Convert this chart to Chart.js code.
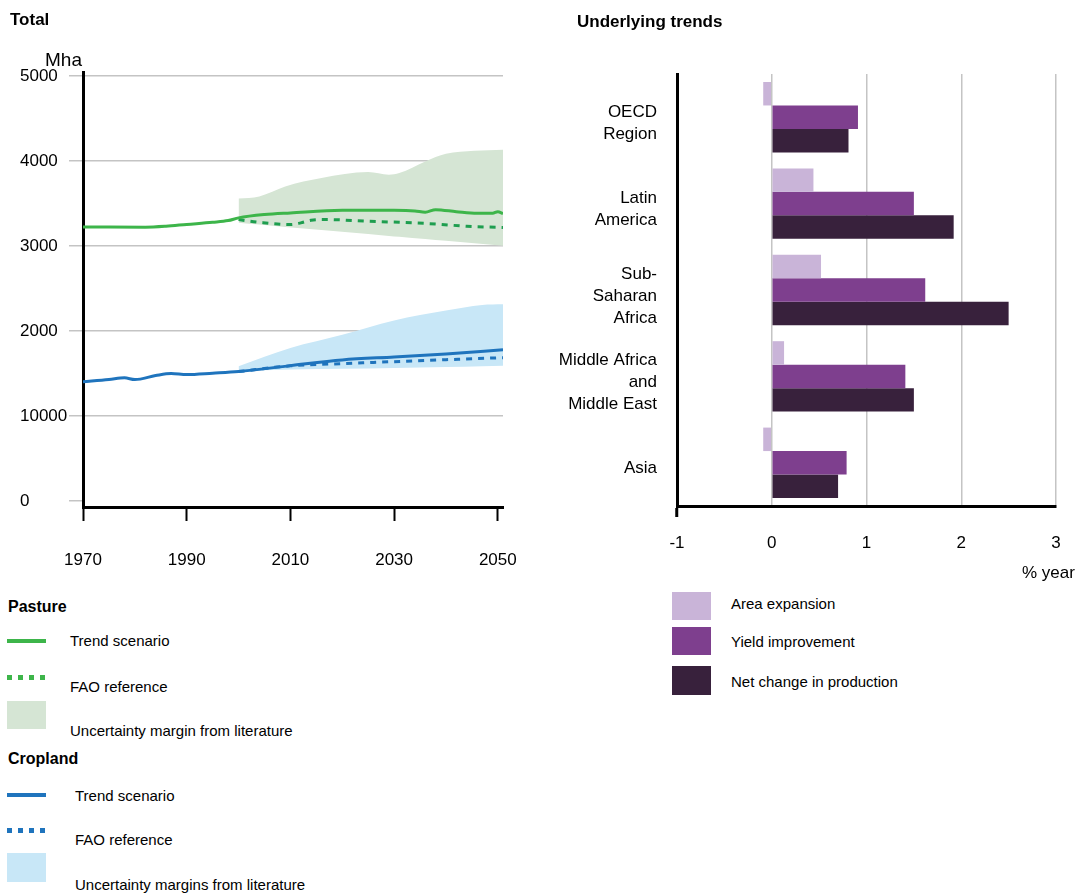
<!DOCTYPE html>
<html>
<head>
<meta charset="utf-8">
<script src="https://cdn.jsdelivr.net/npm/chart.js@4.4.1/dist/chart.umd.min.js"></script>
<style>
  body { margin: 0; background: #fff; }
  #page {
    position: relative; width: 1078px; height: 895px; overflow: hidden;
    font-family: "Liberation Sans", Arial, sans-serif; color: #000;
  }
  .t { position: absolute; white-space: nowrap; line-height: 1; z-index: 2; }
  .title { font-weight: bold; font-size: 17px; }
  .grp { font-weight: bold; font-size: 16px; }
  .lg { font-size: 15px; }
  .sw { position: absolute; z-index: 2; }
  #totalBox { position: absolute; left: 0; top: 0; width: 530px; height: 590px; }
  #trendsBox { position: absolute; left: 540px; top: 0; width: 538px; height: 590px; }
</style>
</head>
<body>
<div id="page">
  <div id="totalBox"><canvas id="totalChart"></canvas></div>
  <div id="trendsBox"><canvas id="trendsChart"></canvas></div>

  <div class="t title" style="left:10px; top:11px;">Total</div>
  <div class="t title" style="left:577px; top:13px;">Underlying trends</div>
  <div class="t" style="left:45px; top:50px; font-size:19px;">Mha</div>
  <div class="t" style="left:1022px; top:564px; font-size:17px;">% year</div>

  <!-- left legend -->
  <div class="t grp" style="left:8px; top:599px;">Pasture</div>
  <div class="sw" style="left:7px; top:639px; width:39px; height:4px; background:#3db54a;"></div>
  <div class="t lg" style="left:70px; top:633px;">Trend scenario</div>
  <div class="sw" style="left:7px; top:675px; width:39px; height:5px; background:repeating-linear-gradient(to right,#3db54a 0 5px,transparent 5px 11px);"></div>
  <div class="t lg" style="left:70px; top:679px;">FAO reference</div>
  <div class="sw" style="left:7px; top:701px; width:39px; height:28px; background:#d5e5d4;"></div>
  <div class="t lg" style="left:70px; top:723px;">Uncertainty margin from literature</div>
  <div class="t grp" style="left:8px; top:751px;">Cropland</div>
  <div class="sw" style="left:7px; top:793px; width:39px; height:4px; background:#1f74bd;"></div>
  <div class="t lg" style="left:75px; top:788px;">Trend scenario</div>
  <div class="sw" style="left:7px; top:828px; width:39px; height:5px; background:repeating-linear-gradient(to right,#1f74bd 0 5px,transparent 5px 11px);"></div>
  <div class="t lg" style="left:75px; top:832px;">FAO reference</div>
  <div class="sw" style="left:7px; top:853px; width:39px; height:29px; background:#c8e7f7;"></div>
  <div class="t lg" style="left:75px; top:877px;">Uncertainty margins from literature</div>

  <!-- right legend -->
  <div class="sw" style="left:672px; top:592px; width:39px; height:28px; background:#c9b4d8;"></div>
  <div class="t lg" style="left:731px; top:596px;">Area expansion</div>
  <div class="sw" style="left:672px; top:627px; width:39px; height:28px; background:#7e3f8e;"></div>
  <div class="t lg" style="left:731px; top:634px;">Yield improvement</div>
  <div class="sw" style="left:672px; top:666px; width:39px; height:29px; background:#38213c;"></div>
  <div class="t lg" style="left:731px; top:674px;">Net change in production</div>
</div>

<script>
// ---- left panel: total area (Mha) ----
const pastureYears = [1970, 1975, 1982, 1986, 1990, 1995, 1998, 2000, 2005, 2010, 2020, 2030, 2034, 2036, 2038, 2042, 2046, 2049, 2050, 2051];
const pastureTrend = [3227, 3225, 3224, 3235, 3256, 3281, 3301, 3333, 3372, 3391, 3422, 3422, 3415, 3399, 3430, 3406, 3387, 3387, 3406, 3384];

const pastureFaoYears = [2000, 2004, 2010, 2012, 2014, 2017, 2025, 2031, 2038, 2044, 2051];
const pastureFao = [3313, 3281, 3254, 3274, 3305, 3313, 3293, 3281, 3261, 3234, 3220];

const pastureBandYears = [2000, 2004, 2009, 2016, 2025, 2029, 2031, 2036, 2040, 2051];
const pastureUpper = [3560, 3586, 3703, 3802, 3872, 3840, 3860, 3997, 4087, 4134];
const pastureLower = [3275, 3254, 3227, 3190, 3143, 3121, 3111, 3084, 3063, 3005];

const cropYears = [1970, 1975, 1978, 1980, 1984, 1987, 1990, 1995, 2000, 2010, 2020, 2030, 2040, 2051];
const cropTrend = [1404, 1430, 1450, 1430, 1477, 1501, 1489, 1505, 1524, 1594, 1661, 1696, 1731, 1781];

const cropFaoYears = [2000, 2010, 2020, 2030, 2040, 2051];
const cropFao = [1524, 1592, 1618, 1641, 1664, 1688];

const cropBandYears = [2000, 2010, 2020, 2030, 2040, 2047, 2051];
const cropUpper = [1587, 1801, 1957, 2125, 2242, 2308, 2316];
const cropLower = [1529, 1548, 1558, 1567, 1578, 1588, 1594];

const yearTicks = [1970, 1990, 2010, 2030, 2050];
const mhaTicks = [0, 1000, 2000, 3000, 4000, 5000];
const mhaTickLabels = ["0", "10000", "2000", "3000", "4000", "5000"];

// ---- right panel: underlying trends (% / year) ----
const regions = [["OECD", "Region"], ["Latin", "America"], ["Sub-", "Saharan", "Africa"], ["Middle Africa", "and", "Middle East"], ["Asia"]];
const areaExpansion = [-0.09, 0.44, 0.52, 0.13, -0.09];
const yieldImprovement = [0.91, 1.50, 1.62, 1.41, 0.79];
const netChange = [0.81, 1.92, 2.50, 1.50, 0.70];

const FONT = "'Liberation Sans', Arial, sans-serif";
const CLEAR = "rgba(0,0,0,0)";

function pairs(xs, ys) {
  return xs.map((x, i) => ({ x: x, y: ys[i] }));
}

function lineSet(label, xs, ys, color, dash) {
  return {
    label: label,
    data: pairs(xs, ys),
    borderColor: color,
    borderWidth: 3,
    borderDash: dash || [],
    fill: false,
    pointRadius: 0,
    cubicInterpolationMode: "monotone",
  };
}

function bandSet(label, xs, ys, color, fillTo) {
  return {
    label: label,
    data: pairs(xs, ys),
    borderWidth: 0,
    borderColor: CLEAR,
    backgroundColor: color,
    fill: fillTo,
    pointRadius: 0,
    cubicInterpolationMode: "monotone",
  };
}

new Chart(document.getElementById("totalChart"), {
  type: "line",
  data: {
    datasets: [
      lineSet("Pasture trend scenario", pastureYears, pastureTrend, "#3db54a"),
      lineSet("Pasture FAO reference", pastureFaoYears, pastureFao, "#1e9e4f", [6, 6]),
      lineSet("Cropland trend scenario", cropYears, cropTrend, "#1f74bd"),
      lineSet("Cropland FAO reference", cropFaoYears, cropFao, "#1f74bd", [6, 6]),
      bandSet("Pasture lower", pastureBandYears, pastureLower, "#d5e5d4", false),
      bandSet("Pasture uncertainty", pastureBandYears, pastureUpper, "#d5e5d4", "-1"),
      bandSet("Cropland lower", cropBandYears, cropLower, "#c8e7f7", false),
      bandSet("Cropland uncertainty", cropBandYears, cropUpper, "#c8e7f7", "-1"),
    ],
  },
  options: {
    responsive: true,
    maintainAspectRatio: false,
    animation: false,
    layout: { padding: { top: 72, right: 27, left: 20, bottom: 0 } },
    plugins: { legend: { display: false }, tooltip: { enabled: false } },
    scales: {
      x: {
        type: "linear",
        min: 1970,
        max: 2051,
        afterBuildTicks: (scale) => {
          scale.ticks = yearTicks.map((v) => ({ value: v }));
        },
        afterFit: (scale) => {
          scale.height = 83;
          scale.paddingLeft = 0;
          scale.paddingRight = 0;
        },
        ticks: {
          color: "#000",
          padding: 29,
          font: { family: FONT, size: 17 },
          callback: (v) => String(v),
        },
        grid: { drawOnChartArea: false, tickLength: 14, tickColor: "#000", tickWidth: 2 },
        border: { color: "#000", width: 3 },
      },
      y: {
        min: -70,
        max: 5050,
        afterBuildTicks: (scale) => {
          scale.ticks = mhaTicks.map((v) => ({ value: v }));
        },
        afterFit: (scale) => {
          scale.width = 63;
        },
        ticks: {
          color: "#000",
          crossAlign: "far",
          font: { family: FONT, size: 17 },
          callback: (v) => mhaTickLabels[mhaTicks.indexOf(v)],
        },
        grid: {
          color: (ctx) => (ctx.tick && ctx.tick.value === 0 ? CLEAR : "#c4c4c4"),
          tickColor: "#c4c4c4",
          lineWidth: 1.5,
          tickLength: 14,
        },
        border: { color: "#000", width: 3 },
      },
    },
  },
});

new Chart(document.getElementById("trendsChart"), {
  type: "bar",
  data: {
    labels: regions,
    datasets: [
      { label: "Area expansion", data: areaExpansion, backgroundColor: "#c9b4d8" },
      { label: "Yield improvement", data: yieldImprovement, backgroundColor: "#7e3f8e" },
      { label: "Net change in production", data: netChange, backgroundColor: "#38213c" },
    ],
  },
  options: {
    indexAxis: "y",
    responsive: true,
    maintainAspectRatio: false,
    animation: false,
    datasets: { bar: { categoryPercentage: 0.815, barPercentage: 1.0 } },
    layout: { padding: { top: 74, right: 22, left: 0, bottom: 0 } },
    plugins: { legend: { display: false }, tooltip: { enabled: false } },
    scales: {
      x: {
        min: -1,
        max: 3,
        afterFit: (scale) => {
          scale.height = 84;
          scale.paddingLeft = 0;
          scale.paddingRight = 0;
        },
        ticks: {
          stepSize: 1,
          color: "#000",
          padding: 16,
          font: { family: FONT, size: 17 },
        },
        grid: {
          color: (ctx) => (ctx.tick && ctx.tick.value === -1 ? CLEAR : "#c4c4c4"),
          lineWidth: 1.5,
          tickLength: 11,
          tickWidth: 3,
          tickColor: (ctx) => (ctx.tick && ctx.tick.value === -1 ? "#000" : CLEAR),
        },
        border: { color: "#000", width: 3 },
      },
      y: {
        afterFit: (scale) => {
          scale.width = 137;
        },
        ticks: {
          color: "#000",
          padding: 12,
          labelOffset: 6,
          font: { family: FONT, size: 17, lineHeight: 1.3 },
        },
        grid: { display: false },
        border: { color: "#000", width: 3 },
      },
    },
  },
});
</script>
</body>
</html>
